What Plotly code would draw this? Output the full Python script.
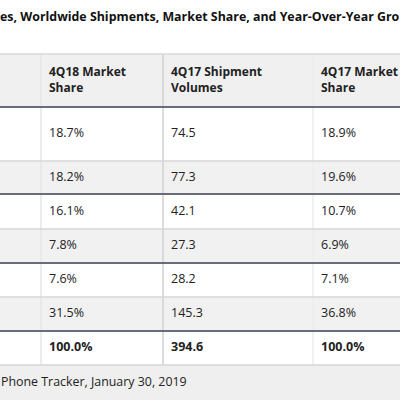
import plotly.graph_objects as go

title = "es, Worldwide Shipments, Market Share, and Year-Over-Year Gro"
headers = ["4Q18 Market<br>Share", "4Q17 Shipment<br>Volumes", "4Q17 Market<br>Share"]
share_4q18 = ["18.7%", "18.2%", "16.1%", "7.8%", "7.6%", "31.5%", "100.0%"]
ship_4q17 = ["74.5", "77.3", "42.1", "27.3", "28.2", "145.3", "394.6"]
share_4q17 = ["18.9%", "19.6%", "10.7%", "6.9%", "7.1%", "36.8%", "100.0%"]
source = "Phone Tracker, January 30, 2019"

row_edges = [107, 161, 194, 229, 263, 297, 331, 365]
col_x = [49, 171, 321]
dark_lines = {107, 194, 263, 331}

fig = go.Figure()
shapes = []
shapes.append(dict(type="rect", x0=0, x1=400, y0=54, y1=107, fillcolor="#f0f0f0", line_width=0, layer="below"))
for i in range(7):
    if i % 2 == 1:
        shapes.append(dict(type="rect", x0=0, x1=400, y0=row_edges[i], y1=row_edges[i+1],
                           fillcolor="#f1f1f1", line_width=0, layer="below"))
shapes.append(dict(type="rect", x0=0, x1=400, y0=365, y1=400, fillcolor="#efefef", line_width=0, layer="below"))
for x, c in [(41, "#e6e6e6"), (163, "#d0d0d0"), (313, "#ececec")]:
    shapes.append(dict(type="line", x0=x, x1=x, y0=54, y1=365, line=dict(color=c, width=1.5)))
shapes.append(dict(type="line", x0=0, x1=400, y0=54, y1=54, line=dict(color="#d8d8d8", width=1.5)))
for y in row_edges:
    if y in dark_lines:
        shapes.append(dict(type="line", x0=0, x1=400, y0=y, y1=y, line=dict(color="#6a6c7c", width=2)))
    else:
        shapes.append(dict(type="line", x0=0, x1=400, y0=y, y1=y, line=dict(color="#d6d6d6", width=1.5)))

font = dict(family="Open Sans", size=12.5, color="#222")
hfont = dict(family="Open Sans", size=12, color="#222")
fig.add_trace(go.Scatter(x=col_x, y=[81]*3, text=["<b>%s</b>" % h for h in headers], mode="text",
                         textposition="middle right", textfont=hfont, cliponaxis=False, hoverinfo="skip"))
centers = [(row_edges[i] + row_edges[i+1]) / 2 for i in range(7)]
for cx, vals in zip(col_x, [share_4q18, ship_4q17, share_4q17]):
    txt = [("<b>%s</b>" % v) if i == 6 else v for i, v in enumerate(vals)]
    fig.add_trace(go.Scatter(x=[cx]*7, y=centers, text=txt, mode="text", textposition="middle right",
                             textfont=font, cliponaxis=False, hoverinfo="skip"))

annotations = [
    dict(x=-0.005, y=1 - 17 / 400, xref="paper", yref="paper", text="<b>%s</b>" % title, showarrow=False,
         xanchor="left", yanchor="middle", font=dict(family="Open Sans", size=12.4, color="#111")),
    dict(x=-0.002, y=1 - 381 / 400, xref="paper", yref="paper", text=source, showarrow=False,
         xanchor="left", yanchor="middle", font=dict(family="Open Sans", size=12.4, color="#222")),
]

fig.update_layout(width=400, height=400, margin=dict(l=0, r=0, t=0, b=0), showlegend=False,
                  plot_bgcolor="white", paper_bgcolor="white", shapes=shapes, annotations=annotations,
                  xaxis=dict(range=[0, 400], visible=False, fixedrange=True),
                  yaxis=dict(range=[400, 0], visible=False, fixedrange=True))
fig.write_html("out.html", config={"displayModeBar": False})
with open("out.html", encoding="utf-8") as f:
    html = f.read()
html = html.replace("<head>", "<head><style>html,body{margin:0;padding:0;overflow:hidden}</style>", 1)
with open("out.html", "w", encoding="utf-8") as f:
    f.write(html)
